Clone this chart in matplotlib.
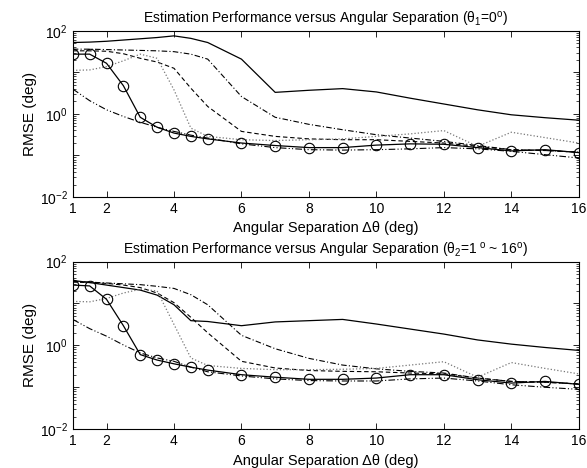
import numpy as np
import matplotlib
matplotlib.use("Agg")
import matplotlib.pyplot as plt
from matplotlib.ticker import LogLocator, FixedLocator, NullFormatter

plt.rcParams['font.family'] = ['Liberation Sans', 'DejaVu Sans']
plt.rcParams['mathtext.fontset'] = 'custom'
plt.rcParams['mathtext.rm'] = 'Liberation Sans'
plt.rcParams['mathtext.it'] = 'Liberation Sans'

# separation grid (deg)
sep = [1, 1.5, 2, 2.5, 3, 3.5, 4, 4.5, 5, 6, 7, 8, 9, 10, 11, 12, 13, 14, 15, 16]

# --- panel 1 (theta1 = 0 deg), log10 RMSE ---
top_solid   = [1.72, 1.73, 1.75, 1.78, 1.81, 1.84, 1.88, 1.82, 1.72, 1.32, 0.52, 0.57, 0.61, 0.53, 0.38, 0.24, 0.10, -0.02, -0.09, -0.15]
top_dashdot = [1.56, 1.56, 1.55, 1.54, 1.53, 1.52, 1.50, 1.44, 1.32, 0.42, -0.08, -0.25, -0.38, -0.50, -0.58, -0.66, -0.76, -0.86, -0.88, -0.92]
top_dashed  = [1.52, 1.52, 1.51, 1.45, 1.34, 1.25, 1.10, 0.62, 0.18, -0.42, -0.54, -0.60, -0.62, -0.62, -0.66, -0.70, -0.78, -0.86, -0.88, -0.92]
top_dotted  = [1.05, 1.06, 1.14, 1.28, 1.44, 1.34, 0.58, -0.34, -0.54, -0.62, -0.64, -0.62, -0.60, -0.54, -0.48, -0.40, -0.78, -0.44, -0.57, -0.70]
top_circle  = [1.44, 1.44, 1.22, 0.68, -0.08, -0.32, -0.46, -0.54, -0.60, -0.70, -0.76, -0.81, -0.81, -0.75, -0.72, -0.73, -0.81, -0.89, -0.86, -0.93]
top_crb     = [0.60, 0.32, 0.10, -0.06, -0.20, -0.32, -0.42, -0.51, -0.58, -0.72, -0.81, -0.86, -0.87, -0.86, -0.84, -0.81, -0.84, -0.90, -0.98, -1.06]

# --- panel 2 (theta2 = 1..16 deg) ---
bot_solid   = [1.55, 1.50, 1.44, 1.38, 1.32, 1.20, 0.97, 0.59, 0.57, 0.47, 0.56, 0.59, 0.62, 0.51, 0.39, 0.27, 0.13, 0.03, -0.05, -0.12]
bot_dashdot = [1.53, 1.51, 1.49, 1.47, 1.45, 1.41, 1.36, 1.21, 0.97, 0.24, -0.08, -0.31, -0.47, -0.56, -0.62, -0.66, -0.78, -0.86, -0.88, -0.92]
bot_dashed  = [1.51, 1.50, 1.48, 1.44, 1.38, 1.25, 1.02, 0.67, 0.30, -0.38, -0.54, -0.60, -0.62, -0.63, -0.66, -0.68, -0.78, -0.86, -0.88, -0.92]
bot_dotted  = [1.05, 1.04, 1.12, 1.25, 1.34, 1.30, 0.50, -0.30, -0.48, -0.55, -0.58, -0.58, -0.57, -0.55, -0.47, -0.39, -0.76, -0.41, -0.55, -0.68]
bot_circle  = [1.44, 1.42, 1.10, 0.47, -0.22, -0.35, -0.44, -0.52, -0.59, -0.70, -0.76, -0.81, -0.81, -0.78, -0.70, -0.70, -0.82, -0.90, -0.86, -0.93]
bot_crb     = [0.62, 0.40, 0.22, 0.01, -0.18, -0.30, -0.38, -0.52, -0.63, -0.73, -0.80, -0.84, -0.85, -0.85, -0.80, -0.78, -0.85, -0.94, -1.00, -1.05]

titles = [r'Estimation Performance versus Angular Separation (θ$_1$=0$^{\rm o}$)',
          r'Estimation Performance versus Angular Separation (θ$_2$=1$^{\rm\ o}$ ~ 16$^{\rm o}$)']

fig = plt.figure(figsize=(5.87, 4.68), dpi=100)
ax1 = fig.add_axes([0.124, 0.579, 0.862, 0.355])
ax2 = fig.add_axes([0.124, 0.083, 0.862, 0.358])

panels = [
    (ax1, top_solid, top_dashdot, top_dashed, top_dotted, top_circle, top_crb),
    (ax2, bot_solid, bot_dashdot, bot_dashed, bot_dotted, bot_circle, bot_crb),
]

for i, (ax, s, dd, da, do, ci, crb) in enumerate(panels):
    ax.plot(sep, 10 ** np.array(s), '-', color='black', lw=0.9)
    ax.plot(sep, 10 ** np.array(dd), color='black', lw=0.8, dashes=(5, 2, 1, 2))
    ax.plot(sep, 10 ** np.array(da), color='black', lw=0.8, dashes=(4, 2.5))
    ax.plot(sep, 10 ** np.array(do), ':', color='#777777', lw=0.9)
    ax.plot(sep, 10 ** np.array(ci), '-', color='black', lw=0.9, marker='o',
            markersize=7.5, markerfacecolor='none', markeredgewidth=0.8)
    ax.plot(sep, 10 ** np.array(crb), color='black', lw=0.8, dashes=(6, 2, 1, 2, 1, 2))

    ax.set_yscale('log')
    ax.set_xlim(1, 16)
    ax.set_ylim(1e-2, 1e2)
    ax.xaxis.set_major_locator(FixedLocator([1, 2, 4, 6, 8, 10, 12, 14, 16]))
    ax.yaxis.set_major_locator(FixedLocator([1e-2, 1e-1, 1, 10, 100]))
    ax.set_yticklabels([r'10$^{-2}$', '', r'10$^{0}$', '', r'10$^{2}$'])
    ax.yaxis.set_minor_locator(LogLocator(base=10, subs=np.arange(2, 10), numticks=20))
    ax.yaxis.set_minor_formatter(NullFormatter())
    ax.tick_params(which='both', direction='in', top=True, right=True, labelsize=10)
    ax.tick_params(which='major', length=4, width=0.6)
    ax.tick_params(which='minor', length=2, width=0.5)
    for sp in ax.spines.values():
        sp.set_linewidth(0.8)
    ax.set_title(titles[i], fontsize=10, pad=5)
    ax.set_xlabel('Angular Separation Δθ (deg)', fontsize=10.5, labelpad=4)
    ax.set_ylabel('RMSE (deg)', fontsize=11, labelpad=2)

fig.savefig('out.png', dpi=100)
